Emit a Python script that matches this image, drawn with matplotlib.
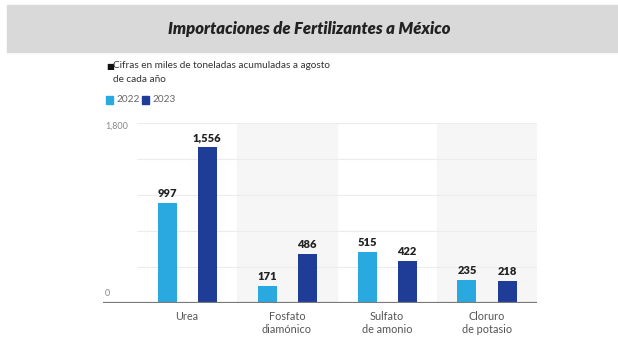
import matplotlib
matplotlib.use("Agg")
import matplotlib.pyplot as plt
from matplotlib.patches import Rectangle
import numpy as np

categories = ["Urea", "Fosfato\ndiamónico", "Sulfato\nde amonio", "Cloruro\nde potasio"]
years = ["2022", "2023"]
values_2022 = [997, 171, 515, 235]
values_2023 = [1556, 486, 422, 218]
y_ticks = [0, 360, 720, 1080, 1440, 1800]
y_labels = {0: "0", 1800: "1,800"}

c_light = "#2aa9e0"
c_dark = "#1f3c96"
txt = "#555555"

plt.rcParams["font.family"] = ["Lato", "DejaVu Sans"]

fig = plt.figure(figsize=(6.18, 3.37), dpi=100)
W, H = 618, 337

# title banner
fig.patches.append(Rectangle((7 / W, 1 - 52 / H), 1 - 7 / W, 47 / H,
                             transform=fig.transFigure, color="#d9d9d9", zorder=0))
fig.text(0.5, 1 - 29 / H, "Importaciones de Fertilizantes a México",
         ha="center", va="center", fontsize=12, fontweight="heavy",
         fontstyle="italic", color="#222222")

# note + legend
fig.text(106 / W, 1 - 66 / H, "■", ha="left", va="center", fontsize=6, color="#111111")
fig.text(113 / W, 1 - 66 / H, "Cifras en miles de toneladas acumuladas a agosto",
         ha="left", va="center", fontsize=7.2, color="#333333")
fig.text(113 / W, 1 - 80 / H, "de cada año", ha="left", va="center",
         fontsize=7.2, color="#333333")
for x0, col, lab in [(106, c_light, years[0]), (142, c_dark, years[1])]:
    fig.patches.append(Rectangle((x0 / W, 1 - 104 / H), 7 / W, 8 / H,
                                 transform=fig.transFigure, color=col))
    fig.text((x0 + 10) / W, 1 - 100 / H, lab, ha="left", va="center",
             fontsize=7.2, color="#666666")

ax = fig.add_axes([103 / W, 1 - 303 / H, 434 / W, 180 / H])
n = len(categories)
x = np.arange(n)
ax.set_xlim(-0.84, n - 0.5)
ax.set_ylim(0, 1800)

for i in range(n):
    if i % 2 == 1:
        ax.axvspan(i - 0.5, i + 0.5, ymin=0, ymax=1.01, color="#f6f6f6", zorder=0)
ax.hlines(y_ticks[1:], -0.5, n - 0.5, color="#ececec", lw=0.8, zorder=1)

w = 0.19
b1 = ax.bar(x - 0.2, values_2022, w, color=c_light, zorder=2)
b2 = ax.bar(x + 0.2, values_2023, w, color=c_dark, zorder=2)
for bars, vals in [(b1, values_2022), (b2, values_2023)]:
    for r, v in zip(bars, vals):
        ax.text(r.get_x() + r.get_width() / 2, v + 40, f"{v:,}", ha="center",
                va="bottom", fontsize=8, fontweight="heavy", color="#222222")

ax.axhline(0, color="#7a7a7a", lw=1.6, zorder=3)
for v, lab in y_labels.items():
    ax.text(-0.82, v + (50 if v == 0 else -30), lab, ha="left", va="bottom" if v == 0 else "center",
            fontsize=6.5, color="#888888")

ax.set_xticks(x)
ax.set_xticklabels(categories, fontsize=7.8, color=txt, linespacing=1.15)
ax.tick_params(axis="x", length=0, pad=6)
ax.set_yticks([])
for s in ax.spines.values():
    s.set_visible(False)

fig.savefig("out.png", dpi=100)
